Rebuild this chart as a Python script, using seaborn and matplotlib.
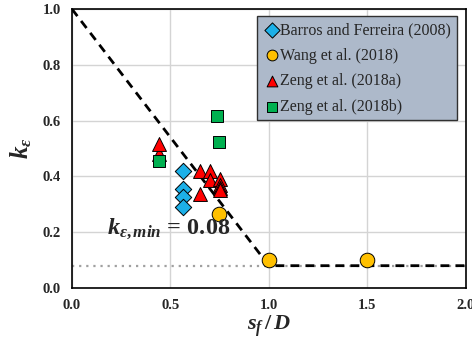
import matplotlib
matplotlib.use("Agg")
import matplotlib.pyplot as plt
import seaborn as sns
import pandas as pd

# Experimental data sets (s_f/D, k_eps)
barros_x = [0.565, 0.565, 0.565, 0.565]
barros_y = [0.42, 0.355, 0.327, 0.291]
wang_x = [0.748, 1.0, 1.5]
wang_y = [0.265, 0.10, 0.10]
zeng_a_x = [0.443, 0.443, 0.65, 0.70, 0.70, 0.75, 0.75, 0.75, 0.75, 0.65]
zeng_a_y = [0.48, 0.515, 0.42, 0.42, 0.387, 0.39, 0.37, 0.36, 0.35, 0.336]
zeng_b_x = [0.735, 0.748, 0.443]
zeng_b_y = [0.618, 0.522, 0.455]

series_names = ["Barros and Ferreira (2008)", "Wang et al. (2018)",
                "Zeng et al. (2018a)", "Zeng et al. (2018b)"]

# Proposed bilinear relation
model_x = [0.0, 1.0, 2.0]
model_y = [1.0, 0.08, 0.08]
k_min = 0.08

frames = []
for name, xs, ys in zip(series_names,
                        [barros_x, wang_x, zeng_a_x, zeng_b_x],
                        [barros_y, wang_y, zeng_a_y, zeng_b_y]):
    frames.append(pd.DataFrame({"sfD": xs, "k": ys, "source": name}))
df = pd.concat(frames, ignore_index=True)

sns.set_style("white")
plt.rcParams["font.family"] = ["Liberation Serif", "DejaVu Serif"]
plt.rcParams["mathtext.fontset"] = "custom"
plt.rcParams["mathtext.rm"] = "Liberation Serif:bold"
plt.rcParams["mathtext.it"] = "Liberation Serif:italic:bold"
plt.rcParams["mathtext.bf"] = "Liberation Serif:bold"

fig = plt.figure(figsize=(4.72, 3.49), dpi=100)
ax = fig.add_axes([0.1525, 0.1748, 0.8345, 0.7992])

ax.plot([0, 2], [k_min, k_min], color="#a0a0a0", lw=1.6, ls=(0, (1, 2.2)), zorder=1)
ax.plot(model_x, model_y, color="black", lw=2.0, ls=(0, (3.2, 2.2)), zorder=2)

palette = {series_names[0]: "#1cb0e8", series_names[1]: "#ffc000",
           series_names[2]: "#ff0000", series_names[3]: "#00b050"}
markers = {series_names[0]: "D", series_names[1]: "o",
           series_names[2]: "^", series_names[3]: "s"}
sizes_map = {series_names[0]: 70, series_names[1]: 110,
             series_names[2]: 100, series_names[3]: 75}

for name in series_names:
    sub = df[df["source"] == name]
    sns.scatterplot(data=sub, x="sfD", y="k", color=palette[name],
                    marker=markers[name], s=sizes_map[name], edgecolor="black",
                    linewidth=0.7, ax=ax, label=name, zorder=3)

ax.set_xlim(0, 2)
ax.set_ylim(0, 1)
ax.set_xticks([0, 0.5, 1.0, 1.5, 2.0])
ax.set_yticks([0, 0.2, 0.4, 0.6, 0.8, 1.0])
ax.set_xticklabels(["0.0", "0.5", "1.0", "1.5", "2.0"])
ax.set_yticklabels(["0.0", "0.2", "0.4", "0.6", "0.8", "1.0"])
ax.grid(True, color="#d4d4d4", lw=1.0)
ax.set_axisbelow(True)
for sp in ax.spines.values():
    sp.set_color("black")
    sp.set_linewidth(1.2)
ax.tick_params(axis="both", length=0, labelsize=10.5, pad=8)
for lbl in ax.get_xticklabels() + ax.get_yticklabels():
    lbl.set_fontweight("bold")

ax.set_xlabel(r"$s_f\,/\,D$", fontsize=16, labelpad=1)
ax.set_ylabel(r"$k_\varepsilon$", fontsize=18, labelpad=6)

ax.text(0.18, 0.195, r"$k_{\varepsilon,min}$" + " = 0.08", fontsize=17.5,
        fontweight="bold", ha="left", va="baseline", zorder=4)

leg = ax.legend(loc="upper right", bbox_to_anchor=(0.985, 0.985), frameon=True,
                fancybox=False, fontsize=11.5, handletextpad=0.0,
                borderpad=0.35, labelspacing=0.6, markerscale=0.7,
                borderaxespad=0.2, handlelength=1.1)
for h in leg.legend_handles:
    h.set_sizes([60])
leg.get_frame().set_facecolor("#adb9ca")
leg.get_frame().set_edgecolor("#303030")
leg.get_frame().set_alpha(1.0)
leg.get_frame().set_linewidth(1.0)

fig.savefig("out.png", dpi=100)
